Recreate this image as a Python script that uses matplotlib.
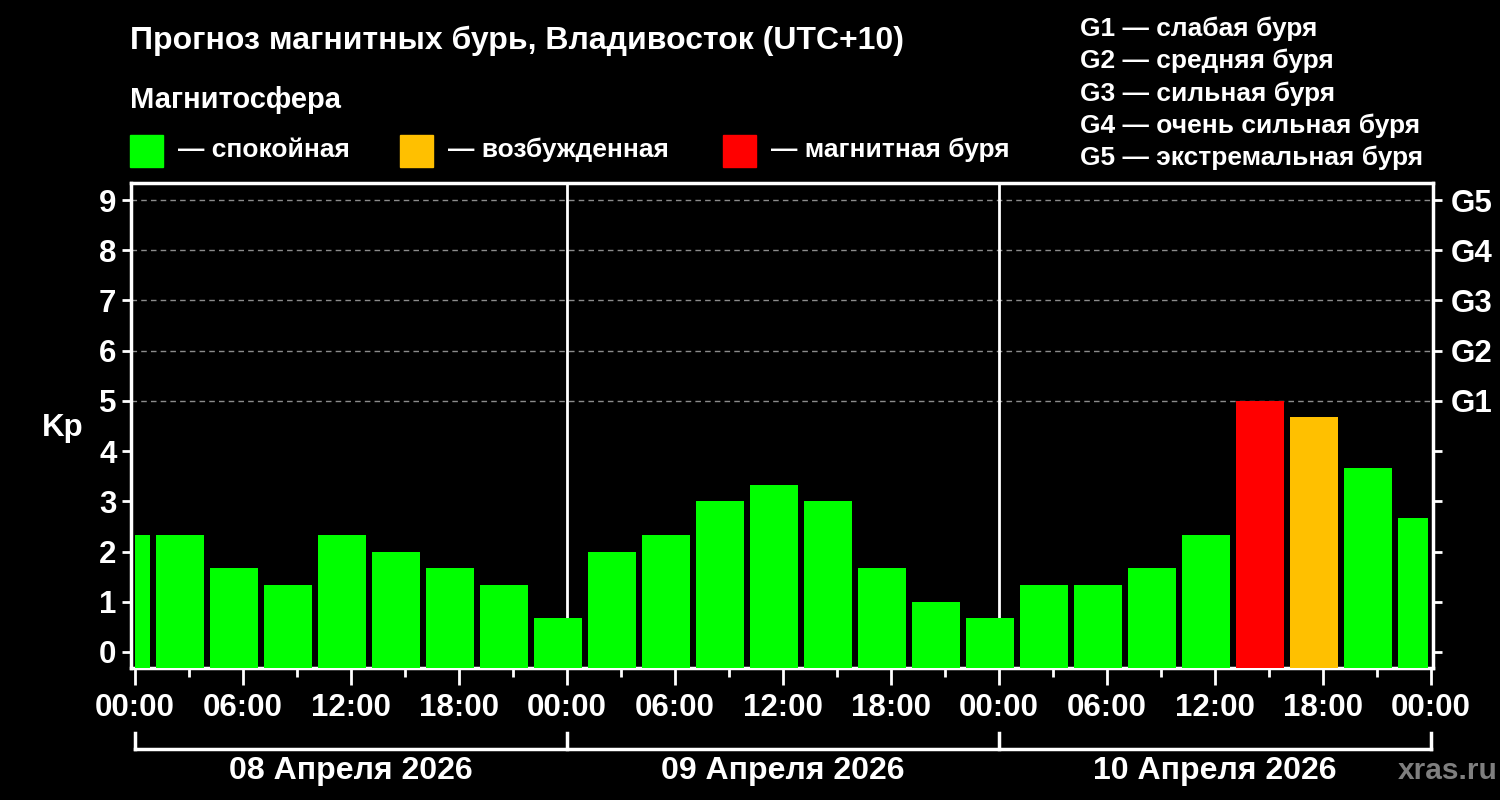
import matplotlib
matplotlib.use('Agg')
import matplotlib.pyplot as plt
from matplotlib.patches import Rectangle
import matplotlib.transforms as mtransforms

plt.rcParams['font.family'] = ['Liberation Sans', 'DejaVu Sans']
plt.rcParams['font.weight'] = 'bold'

# 3-hour slots, hours from 08.04.2026 00:00 local (UTC+10), slot start
slot_start = [-2, 1, 4, 7, 10, 13, 16, 19, 22,
              25, 28, 31, 34, 37, 40, 43, 46,
              49, 52, 55, 58, 61, 64, 67, 70]
kp = [2.33, 2.33, 1.67, 1.33, 2.33, 2.0, 1.67, 1.33, 0.67,
      2.0, 2.33, 3.0, 3.33, 3.0, 1.67, 1.0, 0.67,
      1.33, 1.33, 1.67, 2.33, 5.0, 4.67, 3.67, 2.67]
day_labels = ['08 Апреля 2026', '09 Апреля 2026', '10 Апреля 2026']
time_labels = ['00:00', '06:00', '12:00', '18:00']
g_labels = ['G1', 'G2', 'G3', 'G4', 'G5']
g_legend = ['G1 — слабая буря', 'G2 — средняя буря', 'G3 — сильная буря',
            'G4 — очень сильная буря', 'G5 — экстремальная буря']
mag_legend = ['— спокойная', '— возбужденная', '— магнитная буря']

GREEN = '#00ff00'
ORANGE = '#ffc000'
RED = '#ff0000'


def kp_color(v):
    if v >= 5:
        return RED
    if v >= 4:
        return ORANGE
    return GREEN


W, H = 1500, 800
fig = plt.figure(figsize=(15, 8), dpi=100, facecolor='black')
ax = fig.add_axes([131 / W, 1 - 668 / H, (1433 - 131) / W, (668 - 183) / H])
ax.set_facecolor('black')

hours_total = 24 * len(day_labels)
ymin = -0.32
ax.set_xlim(-0.22, hours_total + 0.11)
ax.set_ylim(ymin, 9.34)

centers = [s + 1.5 for s in slot_start]
bars = ax.bar(centers, [v - ymin for v in kp], width=3 * 0.889, bottom=ymin,
              color=[kp_color(v) for v in kp], zorder=3)
# bars are cut at the first and last midnight
clip = Rectangle((0, -1), hours_total - 0.15, 20, transform=ax.transData)
for b in bars:
    b.set_clip_path(clip)

# grid only for G-levels
for y in range(5, 10):
    ax.axhline(y, color='#8c8c8c', lw=1, ls=(0, (4, 3)), zorder=1)
for d in range(1, len(day_labels)):
    ax.axvline(24 * d, color='white', lw=2, zorder=2)

for s in ax.spines.values():
    s.set_color('white')
    s.set_linewidth(2.5)

ax.set_xticks(range(0, hours_total + 1, 6))
ax.set_xticklabels([time_labels[(h // 6) % 4] for h in range(0, hours_total + 1, 6)])
ax.set_xticks(range(3, hours_total, 6), minor=True)
ax.tick_params(axis='x', which='major', length=12, width=2, colors='white',
               labelsize=22.5, pad=6)
ax.tick_params(axis='x', which='minor', length=6.5, width=2, colors='white')

ax.set_yticks(range(0, 10))
ax.tick_params(axis='y', which='major', length=6.5, width=2, colors='white',
               labelsize=22.5, pad=4, right=True)
fig.text(63 / W, 1 - 428 / H, 'Kp', color='white', fontsize=22.5,
         ha='center', va='center')

ax2 = ax.twinx()
ax2.set_ylim(ax.get_ylim())
ax2.set_yticks(range(0, 10))
ax2.set_yticklabels([''] * 5 + g_labels)
ax2.tick_params(axis='y', length=6.5, width=2, colors='white', labelsize=22.5,
                pad=6)
for s in ax2.spines.values():
    s.set_visible(False)

# date bracket under the time axis
trans = mtransforms.blended_transform_factory(ax.transData, ax.transAxes)
yb = (668 - 749) / (668 - 183)
yt = (668 - 733) / (668 - 183)
ax.plot([0, hours_total], [yb, yb], color='white', lw=2.5, transform=trans,
        clip_on=False)
for d in range(len(day_labels) + 1):
    ax.plot([24 * d, 24 * d], [yb, yt], color='white', lw=2.5, transform=trans,
            clip_on=False)
for i, lab in enumerate(day_labels):
    ax.text(24 * i + 12, (668 - 771) / (668 - 183), lab, transform=trans,
            color='white', fontsize=23, ha='center', va='center')

fig.text(1448 / W, 1 - 771 / H, 'xras.ru', color='#7f7f7f', fontsize=21.5,
         ha='center', va='center')

# header
fig.text(130 / W, 1 - 41 / H, 'Прогноз магнитных бурь, Владивосток (UTC+10)',
         color='white', fontsize=23, ha='left', va='center')
fig.text(130 / W, 1 - 100 / H, 'Магнитосфера', color='white', fontsize=21,
         ha='left', va='center')
sq_x = [130, 400, 723]
for x0, col, lab in zip(sq_x, [GREEN, ORANGE, RED], mag_legend):
    fig.patches.append(Rectangle((x0 / W, 1 - 167 / H), 33 / W, 32 / H,
                                 transform=fig.transFigure, color=col))
    fig.text((x0 + 48) / W, 1 - 150 / H, lab, color='white', fontsize=19,
             ha='left', va='center')

for i, lab in enumerate(g_legend):
    fig.text(1080 / W, 1 - (29 + 32.2 * i) / H, lab, color='white', fontsize=19,
             ha='left', va='center')

fig.savefig('out.png', dpi=100, facecolor='black')
